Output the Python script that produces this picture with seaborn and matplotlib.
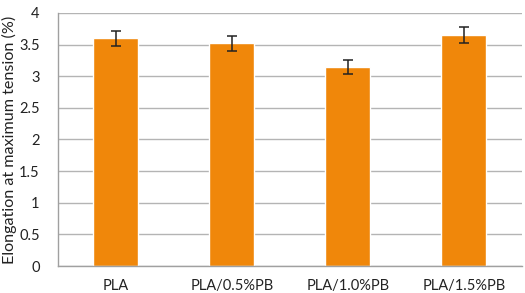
import pandas as pd
import seaborn as sns
import numpy as np
import matplotlib.pyplot as plt

# elongation data
samples = ["PLA", "PLA/0.5%PB", "PLA/1.0%PB", "PLA/1.5%PB"]
elongation = [3.60, 3.52, 3.15, 3.65]
err = [0.12, 0.12, 0.11, 0.12]

df = pd.DataFrame({"sample": samples, "elongation": elongation, "err": err})

sns.set_style("white")
plt.rcParams['font.family'] = ['Lato', 'DejaVu Sans']

fig = plt.figure(figsize=(5.25, 2.93), dpi=100)
ax = fig.add_axes([0.11, 0.092, 0.884, 0.864])

sns.barplot(data=df, x="sample", y="elongation", color="#F0870A",
            saturation=1, width=0.39, errorbar=None, ax=ax)
ax.errorbar(np.arange(len(df)), df["elongation"], yerr=df["err"], fmt="none",
            ecolor="#222222", elinewidth=1.1, capsize=3.5, capthick=1.1)

ax.set_ylim(0, 4)
ax.set_xlim(-0.5, 3.5)
ax.set_yticks(np.arange(0, 4.01, 0.5))
ax.set_yticklabels(["0", "0.5", "1", "1.5", "2", "2.5", "3", "3.5", "4"])
ax.yaxis.grid(True, color="#B4B4B4", linewidth=1)
ax.set_axisbelow(True)
for s in ["top", "right"]:
    ax.spines[s].set_visible(False)
for s in ["left", "bottom"]:
    ax.spines[s].set_color("#A0A0A0")
    ax.spines[s].set_linewidth(1)

# category boundary ticks on the x axis
ax.set_xticks(np.arange(-0.5, 3.6, 1), minor=True)
ax.tick_params(axis="x", which="minor", length=4, color="#A0A0A0", width=1)
ax.tick_params(axis="x", which="major", length=0, pad=9, labelsize=10.5, labelcolor="#222222")
ax.tick_params(axis="y", length=5, color="#A0A0A0", labelsize=10.5, labelcolor="#222222", pad=8)

ax.set_xlabel("")
ax.set_ylabel("Elongation at maximum tension (%)", fontsize=11.6, color="#222222")
ax.yaxis.set_label_coords(-0.088, 0.5)

fig.savefig("out.png", dpi=100)
